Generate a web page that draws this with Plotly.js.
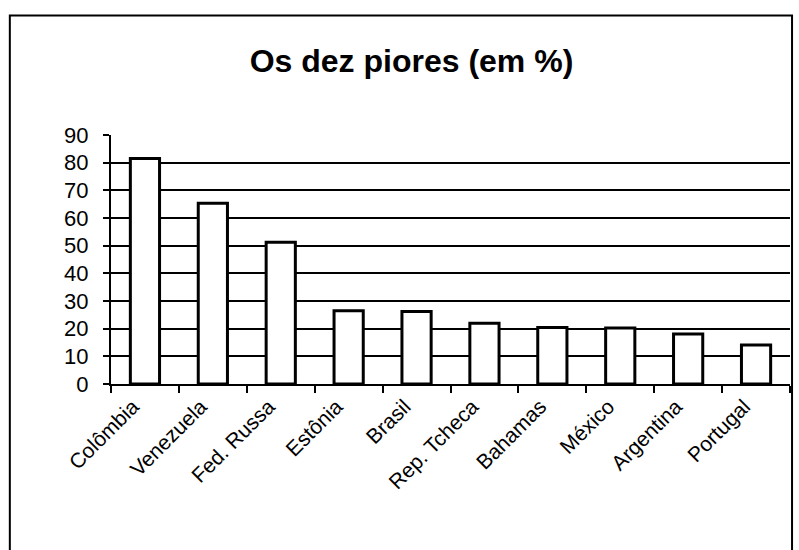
<!DOCTYPE html>
<html>
<head>
<meta charset="utf-8">
<script src="https://cdn.plot.ly/plotly-3.0.1.min.js"></script>
<style>html,body{margin:0;padding:0;background:#fff;}#chart{width:799px;height:550px;}</style>
</head>
<body>
<div id="chart"></div>
<script>
const categories = ["Colômbia", "Venezuela", "Fed. Russa", "Estônia", "Brasil", "Rep. Tcheca", "Bahamas", "México", "Argentina", "Portugal"];
const values = [81.5, 65.3, 51.2, 26.5, 26.2, 22, 20.4, 20.2, 18.1, 14.1];
const yTicks = [0, 10, 20, 30, 40, 50, 60, 70, 80, 90];
const titleText = "Os dez piores (em %)";

const trace = {
  type: "bar",
  x: categories,
  y: values,
  marker: { color: "#ffffff", line: { color: "#000000", width: 3 } },
  hoverinfo: "x+y"
};

const layout = {
  width: 799, height: 550,
  margin: { l: 111, r: 9, t: 135, b: 166 },
  paper_bgcolor: "#ffffff", plot_bgcolor: "#ffffff",
  font: { family: "Liberation Sans, Arial, sans-serif", color: "#000000" },
  title: { text: "<b>" + titleText + "</b>", x: 0.515, xanchor: "center", y: 0.89, yanchor: "middle",
           font: { size: 32, family: "Liberation Sans, Arial, sans-serif", color: "#000" } },
  bargap: 0.57,
  showlegend: false,
  xaxis: {
    type: "category",
    tickangle: -45,
    tickson: "boundaries",
    ticks: "outside", ticklen: 7, tickwidth: 2, tickcolor: "#000",
    ticklabelshift: -12,
    showline: true, linecolor: "#000", linewidth: 2,
    showgrid: false,
    tickfont: { size: 21, color: "#000" }
  },
  yaxis: {
    range: [0, 90],
    tickvals: yTicks,
    ticks: "outside", ticklen: 6, tickwidth: 2, tickcolor: "#000",
    ticklabelstandoff: 10,
    showline: true, linecolor: "#000", linewidth: 2,
    showgrid: true, gridcolor: "#000", gridwidth: 2,
    zeroline: false,
    tickfont: { size: 22, color: "#000" }
  },
  shapes: [
    { type: "rect", xref: "paper", yref: "paper", x0: -0.149, x1: 1.003, y0: -0.8, y1: 1.48,
      line: { color: "#000", width: 2 }, fillcolor: "rgba(0,0,0,0)", layer: "above" }
  ]
};

Plotly.newPlot("chart", [trace], layout, { displayModeBar: false, staticPlot: true });
</script>
</body>
</html>
